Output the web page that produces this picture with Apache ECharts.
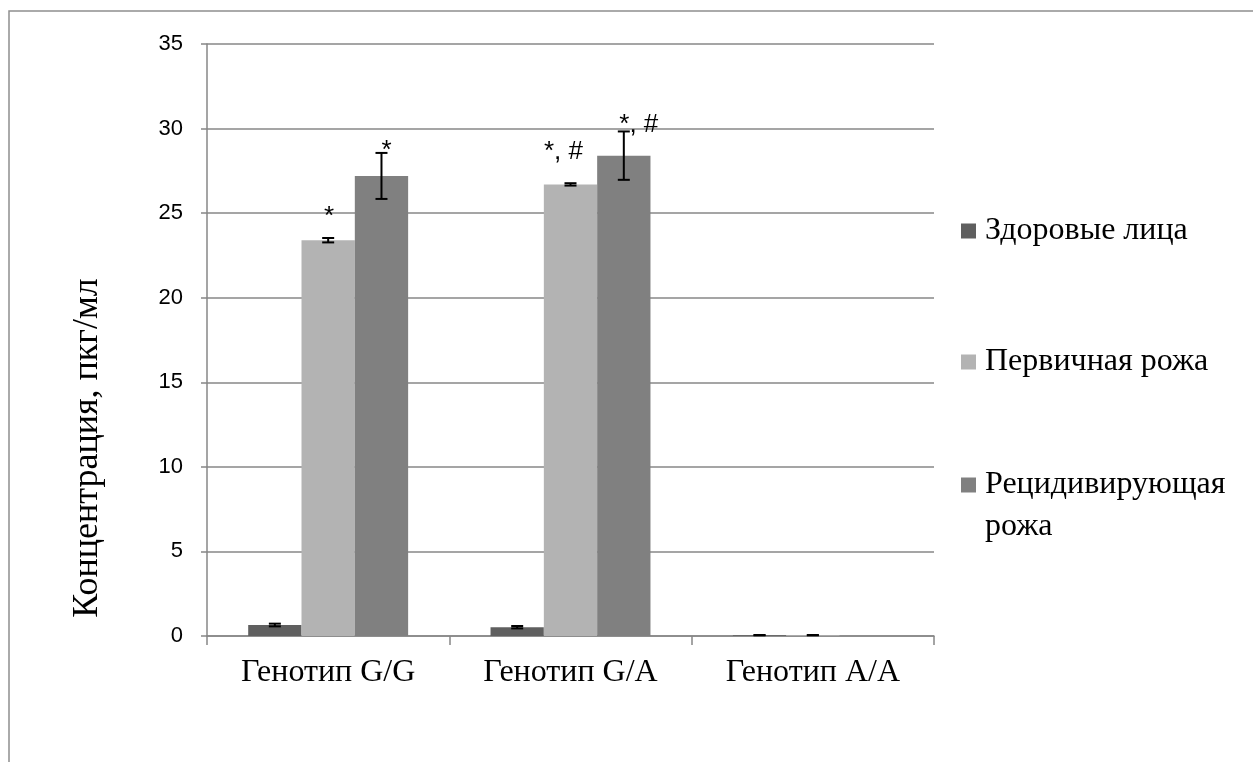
<!DOCTYPE html>
<html>
<head>
<meta charset="utf-8">
<script src="https://cdn.jsdelivr.net/npm/echarts@6/dist/echarts.min.js"></script>
<style>html,body{margin:0;padding:0;background:#fff;}#c{width:1253px;height:762px;}</style>
</head>
<body>
<div id="c"></div>
<script>
const categories = ['Генотип G/G', 'Генотип G/A', 'Генотип A/A'];
const seriesNames = ['Здоровые лица', 'Первичная рожа', 'Рецидивирующая рожа'];
const healthy = [0.65, 0.52, 0.05];
const primary = [23.4, 26.7, 0.05];
const recurrent = [27.2, 28.4, 0];
const healthyErr = [0.08, 0.07, 0.01];
const primaryErr = [0.13, 0.07, 0.01];
const recurrentErr = [1.36, 1.43, null];
const yTicks = [0, 5, 10, 15, 20, 25, 30, 35];
// annotations: [categoryIndex, seriesIndex, text]
const annotations = [[0, 1, '*'], [0, 2, '*'], [1, 1, '*, #'], [1, 2, '*, #']];
// pixel shift of each annotation from its error-bar top (style)
const annotShift = [[1, -21], [5, -2], [-7, -31.5], [15, -7]];

const colors = ['#5f5f5f', '#b3b3b3', '#808080'];
const values = [healthy, primary, recurrent];
const errs = [healthyErr, primaryErr, recurrentErr];
const CAT_GAP = 0.34;
const SERIF = '"Liberation Serif", "Times New Roman", serif';
const SANS = '"Liberation Sans", Arial, sans-serif';

const chart = echarts.init(document.getElementById('c'));

function barCenter(api, cat, si) {
  const x = api.coord([cat, 0])[0];
  const bandW = api.size([1, 0])[0];
  const barW = bandW * (1 - CAT_GAP) / 3;
  return x + (si - 1) * barW;
}

const series = [];
values.forEach((vals, si) => {
  series.push({
    name: seriesNames[si], type: 'bar', data: vals,
    itemStyle: { color: colors[si] },
    barGap: '0%', barCategoryGap: (CAT_GAP * 100) + '%',
    emphasis: { disabled: true }, z: 2
  });
});
values.forEach((vals, si) => {
  const data = [];
  vals.forEach((v, ci) => { if (errs[si][ci] != null) data.push([ci, v, errs[si][ci]]); });
  series.push({
    type: 'custom', data: data, z: 5, silent: true,
    renderItem: function (params, api) {
      const ci = api.value(0), v = api.value(1), e = api.value(2);
      const cx = barCenter(api, ci, si);
      const yT = api.coord([ci, v + e])[1];
      const yB = api.coord([ci, v - e])[1];
      const st = { stroke: '#000', lineWidth: 2 };
      return { type: 'group', children: [
        { type: 'line', shape: { x1: cx, y1: yT, x2: cx, y2: yB }, style: st },
        { type: 'line', shape: { x1: cx - 6, y1: yT, x2: cx + 6, y2: yT }, style: st },
        { type: 'line', shape: { x1: cx - 6, y1: yB, x2: cx + 6, y2: yB }, style: st }
      ]};
    }
  });
});
series.push({
  type: 'custom', z: 6, silent: true,
  data: annotations.map((a, i) => [a[0], a[1], values[a[1]][a[0]] + (errs[a[1]][a[0]] || 0), i]),
  renderItem: function (params, api) {
    const ci = api.value(0), si = api.value(1), top = api.value(2), idx = api.value(3);
    const cx = barCenter(api, ci, si) + annotShift[idx][0];
    const y = api.coord([ci, top])[1] + annotShift[idx][1];
    return { type: 'text', style: { text: annotations[idx][2], x: cx, y: y, align: 'center', verticalAlign: 'middle',
      font: '26px ' + SANS, fill: '#000' } };
  }
});

function legendFor(i, top, label) {
  return {
    data: [seriesNames[i]], orient: 'vertical', left: 956, top: top,
    itemWidth: 15, itemHeight: 15, icon: 'rect', selectedMode: false,
    formatter: label ? (() => label) : undefined,
    textStyle: { fontFamily: SERIF, fontSize: 32, color: '#000', padding: [0, 0, 0, 4] }
  };
}

chart.setOption({
  animation: false,
  grid: { left: 207, right: 319, top: 44, bottom: 126 },
  legend: [legendFor(0, 210), legendFor(1, 341), legendFor(2, 464, 'Рецидивирующая')],
  xAxis: {
    type: 'category', data: categories,
    axisLine: { lineStyle: { color: '#878787', width: 1.5 } },
    axisTick: { show: true, length: 9, lineStyle: { color: '#878787', width: 1.5 } },
    axisLabel: { margin: 21, color: '#000', fontSize: 32, fontFamily: SERIF }
  },
  yAxis: {
    type: 'value', min: 0, max: 35, interval: 5,
    axisLine: { show: true, lineStyle: { color: '#878787', width: 1.5 } },
    axisTick: { show: true, length: 6, lineStyle: { color: '#878787', width: 1.5 } },
    splitLine: { lineStyle: { color: '#878787', width: 1.5 } },
    axisLabel: { margin: 24, color: '#000', fontSize: 22, fontFamily: SANS,
      formatter: v => yTicks.indexOf(v) >= 0 ? String(v) : '' }
  },
  graphic: [
    { type: 'rect', shape: { x: 9, y: 11, width: 1400, height: 900 }, style: { fill: 'none', stroke: '#8f8f8f', lineWidth: 1.5 }, silent: true },
    { type: 'text', x: 88, y: 448, rotation: Math.PI / 2,
      style: { text: 'Концентрация, пкг/мл', align: 'center', verticalAlign: 'middle', font: '36px ' + SERIF, fill: '#000' } },
    { type: 'text', x: 985, y: 527,
      style: { text: 'рожа', align: 'left', verticalAlign: 'middle', font: '32px ' + SERIF, fill: '#000' } }
  ],
  series: series
});
</script>
</body>
</html>
